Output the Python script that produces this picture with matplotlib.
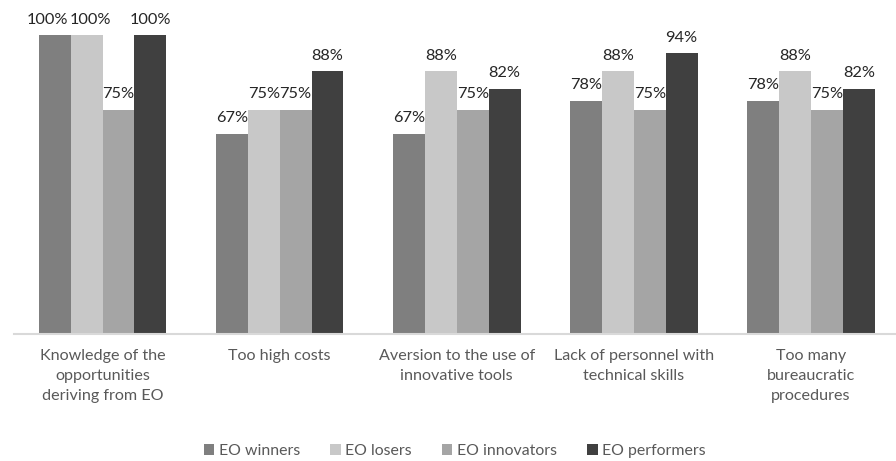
import matplotlib.pyplot as plt
import numpy as np

# data
categories = ['Knowledge of the\nopportunities\nderiving from EO', 'Too high costs',
              'Aversion to the use of\ninnovative tools', 'Lack of personnel with\ntechnical skills',
              'Too many\nbureaucratic\nprocedures']
series_names = ['EO winners', 'EO losers', 'EO innovators', 'EO performers']
winners = [100, 67, 67, 78, 78]
losers = [100, 75, 88, 88, 88]
innovators = [75, 75, 75, 75, 75]
performers = [100, 88, 82, 94, 82]
colors = ['#7f7f7f', '#c8c8c8', '#a5a5a5', '#404040']

plt.rcParams['font.family'] = ['Lato', 'DejaVu Sans']

fig = plt.figure(figsize=(8.96, 4.61), dpi=100)
ax = fig.add_axes([14 / 896, 1 - 334 / 461, 882 / 896, 299 / 461])

x = np.arange(len(categories))
w = 0.18
# nudge the two touching 100% labels apart, as in the original
nudge = {(0, 0): -5, (1, 0): 3}
for i, (vals, name) in enumerate(zip([winners, losers, innovators, performers], series_names)):
    pos = x + (i - 1.5) * w
    bars = ax.bar(pos, vals, w, color=colors[i], label=name)
    for j, (b, v) in enumerate(zip(bars, vals)):
        ax.annotate(f'{v}%', (b.get_x() + b.get_width() / 2, v),
                    xytext=(nudge.get((i, j), 0), 6), textcoords='offset points',
                    ha='center', va='bottom', fontsize=11.8, color='#262626',
                    annotation_clip=False)

ax.set_xlim(-0.5, -0.5 + 882 / 177.1)
ax.set_ylim(0, 100)
ax.set_yticks([])
ax.set_xticks(x)
ax.set_xticklabels(categories, fontsize=11.6, color='#595959', linespacing=1.55)
ax.tick_params(axis='x', length=0, pad=11)
for s in ['top', 'right', 'left']:
    ax.spines[s].set_visible(False)
ax.spines['bottom'].set_color('#d9d9d9')
ax.spines['bottom'].set_linewidth(1.5)

leg = fig.legend(loc='center', bbox_to_anchor=(455 / 896, 1 - 451 / 461), ncol=4, frameon=False,
                 fontsize=11.4, handlelength=0.65, handleheight=0.65, handletextpad=0.3,
                 columnspacing=1.9)
for t in leg.get_texts():
    t.set_color('#595959')

fig.savefig('out.png', dpi=100)
